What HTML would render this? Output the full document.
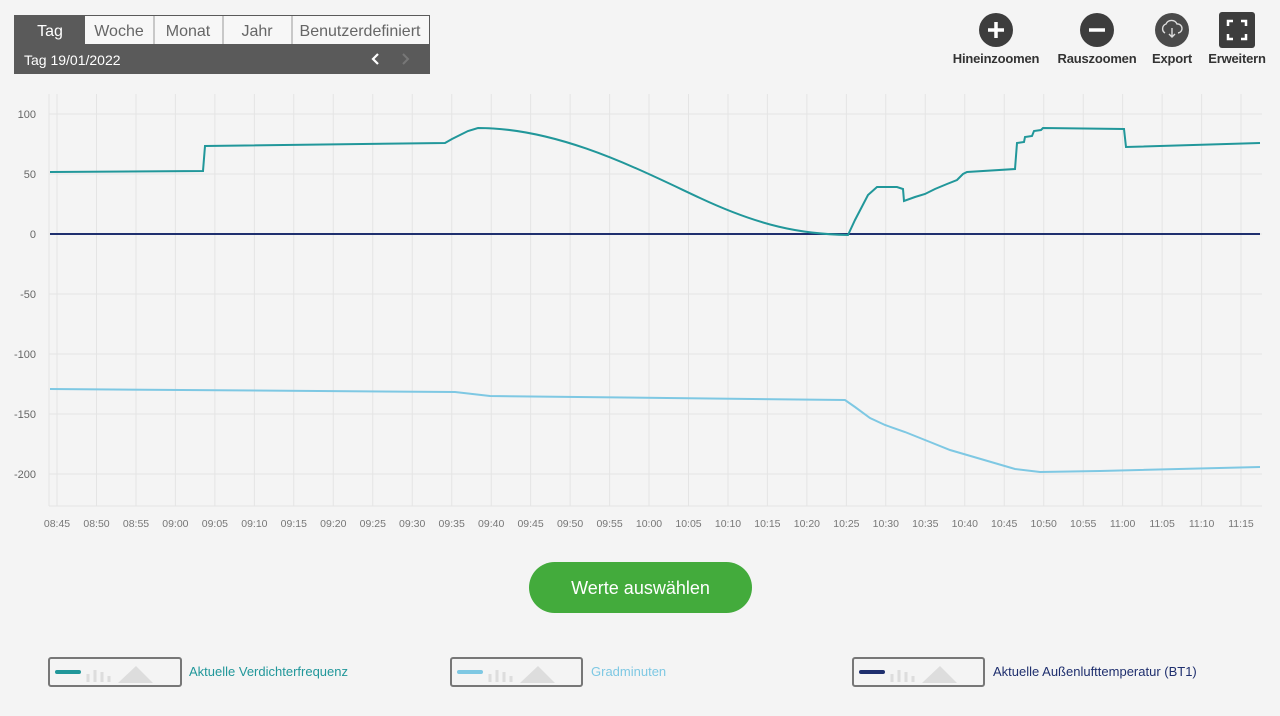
<!DOCTYPE html>
<html><head><meta charset="utf-8"><style>
html,body{margin:0;padding:0;background:#f4f4f4;}
body{width:1280px;height:711px;overflow:hidden;font-family:"Liberation Sans",sans-serif;}
</style></head><body>
<svg width="1280" height="711" viewBox="0 0 1280 711" xmlns="http://www.w3.org/2000/svg" font-family="Liberation Sans, sans-serif">
<rect width="1280" height="711" fill="#f4f4f4"/>
<rect x="14" y="15" width="416" height="59" fill="#5a5a5a"/>
<rect x="85" y="16" width="344" height="28" fill="#f7f7f7"/>
<line x1="154" y1="16" x2="154" y2="44" stroke="#999"/>
<line x1="223" y1="16" x2="223" y2="44" stroke="#999"/>
<line x1="292" y1="16" x2="292" y2="44" stroke="#999"/>
<g font-size="16" fill="#666" text-anchor="middle">
<text x="50" y="36" fill="#fff">Tag</text>
<text x="119" y="36">Woche</text>
<text x="188" y="36">Monat</text>
<text x="257" y="36">Jahr</text>
<text x="360" y="36">Benutzerdefiniert</text>
</g>
<text x="24" y="65" font-size="14" fill="#fff">Tag  19/01/2022</text>
<path d="M378 54 L373 59 L378 64" stroke="#fff" stroke-width="2.2" fill="none"/>
<path d="M403 54 L408 59 L403 64" stroke="#777" stroke-width="2" fill="none"/>
<circle cx="996" cy="30" r="17" fill="#3d3d3d"/>
<path d="M988 30h16M996 22v16" stroke="#fff" stroke-width="3.5"/>
<circle cx="1097" cy="30" r="17" fill="#3d3d3d"/>
<path d="M1089 30h16" stroke="#fff" stroke-width="3.5"/>
<circle cx="1172" cy="30" r="17" fill="#4a4a4a"/>
<path d="M1165 33a5 5 0 0 1 1-9a6 6 0 0 1 11 0a4.5 4.5 0 0 1 1 9M1172 28v9M1169 34l3 3l3-3" stroke="#ddd" stroke-width="1.4" fill="none"/>
<rect x="1219" y="12" width="36" height="36" rx="3" fill="#3d3d3d"/>
<path d="M1228 26v-5h5M1246 26v-5h-5M1228 34v5h5M1246 34v5h-5" stroke="#fff" stroke-width="2.5" fill="none"/>
<g font-size="13" font-weight="bold" fill="#333" text-anchor="middle" letter-spacing="-0.2">
<text x="996" y="63">Hineinzoomen</text>
<text x="1097" y="63">Rauszoomen</text>
<text x="1172" y="63">Export</text>
<text x="1237" y="63">Erweitern</text>
</g>
<g stroke="#e4e4e4" stroke-width="1">
<line x1="49" y1="94" x2="49" y2="506"/>
<line x1="49" y1="506" x2="1262" y2="506"/>
<line x1="49" y1="114" x2="1262" y2="114"/><line x1="49" y1="174" x2="1262" y2="174"/>
<line x1="49" y1="234" x2="1262" y2="234"/><line x1="49" y1="294" x2="1262" y2="294"/>
<line x1="49" y1="354" x2="1262" y2="354"/><line x1="49" y1="414" x2="1262" y2="414"/>
<line x1="49" y1="474" x2="1262" y2="474"/>
<path d="M57 94V506M96.5 94V506M136 94V506M175.4 94V506M214.9 94V506M254.4 94V506M293.8 94V506M333.3 94V506M372.8 94V506M412.2 94V506M451.7 94V506M491.2 94V506M530.6 94V506M570.1 94V506M609.6 94V506M649 94V506M688.5 94V506M728 94V506M767.4 94V506M806.9 94V506M846.4 94V506M885.8 94V506M925.3 94V506M964.8 94V506M1004.2 94V506M1043.7 94V506M1083.2 94V506M1122.6 94V506M1162.1 94V506M1201.6 94V506M1241 94V506"/>
</g>
<g font-size="11" fill="#666" text-anchor="end">
<text x="36" y="118">100</text><text x="36" y="178">50</text><text x="36" y="238">0</text>
<text x="36" y="298">-50</text><text x="36" y="358">-100</text><text x="36" y="418">-150</text><text x="36" y="478">-200</text>
</g>
<g font-size="10.5" fill="#777" text-anchor="middle">
<text x="57" y="527">08:45</text><text x="96.5" y="527">08:50</text><text x="136" y="527">08:55</text><text x="175.4" y="527">09:00</text><text x="214.9" y="527">09:05</text><text x="254.4" y="527">09:10</text><text x="293.8" y="527">09:15</text><text x="333.3" y="527">09:20</text><text x="372.8" y="527">09:25</text><text x="412.2" y="527">09:30</text><text x="451.7" y="527">09:35</text><text x="491.2" y="527">09:40</text><text x="530.6" y="527">09:45</text><text x="570.1" y="527">09:50</text><text x="609.6" y="527">09:55</text><text x="649" y="527">10:00</text><text x="688.5" y="527">10:05</text><text x="728" y="527">10:10</text><text x="767.4" y="527">10:15</text><text x="806.9" y="527">10:20</text><text x="846.4" y="527">10:25</text><text x="885.8" y="527">10:30</text><text x="925.3" y="527">10:35</text><text x="964.8" y="527">10:40</text><text x="1004.2" y="527">10:45</text><text x="1043.7" y="527">10:50</text><text x="1083.2" y="527">10:55</text><text x="1122.6" y="527">11:00</text><text x="1162.1" y="527">11:05</text><text x="1201.6" y="527">11:10</text><text x="1241" y="527">11:15</text>
</g>
<path d="M50 234H1260" stroke="#1f2f6e" stroke-width="2" fill="none"/>
<path d="M50 389L455 392L490 396L845 400L855 407L870 418L885 425L905 432L930 442L950 450L1015 469L1040 472L1100 471L1260 467" stroke="#7ec8e3" stroke-width="2" fill="none"/>
<path d="M50 172L203 171L205 146L445 143L452 139L460 135L468 131L478 128C560 128 640 170 700 198C760 226 800 234 848 235L855 220L868 195L877 187L897 187L903 189L904 201L915 197L925 194L935 189L947 184L957 180L963 174L967 172L1015 169L1017 143L1024 142L1025 137L1032 136L1034 131L1041 130L1043 128L1124 129L1126 147L1260 143" stroke="#21979a" stroke-width="2" fill="none"/>
<rect x="529" y="562" width="223" height="51" rx="25.5" fill="#43ab3c"/>
<text x="640.5" y="594" font-size="18" fill="#fff" text-anchor="middle">Werte auswählen</text>
<g>
<rect x="49" y="658" width="132" height="28" fill="none" stroke="#777" stroke-width="2" rx="2"/>
<rect x="55" y="670" width="26" height="4" rx="2" fill="#21979a"/>
<path d="M88 682v-8M95 682v-12M102 682v-10M109 682v-6" stroke="#ddd" stroke-width="3"/>
<path d="M118 683L136 666L153 683Z" fill="#ddd"/>
<text x="189" y="676" font-size="13" fill="#21979a">Aktuelle Verdichterfrequenz</text>
<rect x="451" y="658" width="131" height="28" fill="none" stroke="#777" stroke-width="2" rx="2"/>
<rect x="457" y="670" width="26" height="4" rx="2" fill="#7ec8e3"/>
<path d="M490 682v-8M497 682v-12M504 682v-10M511 682v-6" stroke="#ddd" stroke-width="3"/>
<path d="M520 683L538 666L555 683Z" fill="#ddd"/>
<text x="591" y="676" font-size="13" fill="#7ec8e3">Gradminuten</text>
<rect x="853" y="658" width="131" height="28" fill="none" stroke="#777" stroke-width="2" rx="2"/>
<rect x="859" y="670" width="26" height="4" rx="2" fill="#1f2f6e"/>
<path d="M892 682v-8M899 682v-12M906 682v-10M913 682v-6" stroke="#ddd" stroke-width="3"/>
<path d="M922 683L940 666L957 683Z" fill="#ddd"/>
<text x="993" y="676" font-size="13" fill="#1f2f6e">Aktuelle Außenlufttemperatur (BT1)</text>
</g>
</svg>
</body></html>
